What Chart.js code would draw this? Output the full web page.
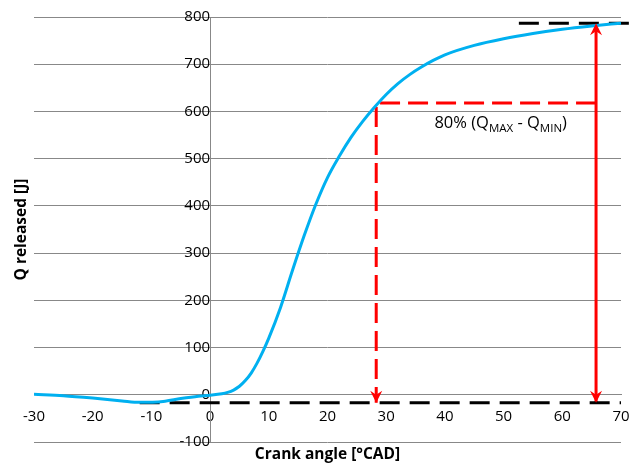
<!DOCTYPE html>
<html>
<head>
<meta charset="utf-8">
<script src="https://cdn.jsdelivr.net/npm/chart.js@4/dist/chart.umd.min.js"></script>
<style>
  html, body { margin: 0; padding: 0; background: #fff; }
  canvas { display: block; }
</style>
</head>
<body>
<canvas id="heatChart" width="629" height="467"></canvas>
<script>
// Dữ liệu
const crankAngle = [-30, -25, -20, -15, -12, -8, -5, -2, 0, 2, 3, 4, 5, 6, 7, 8, 9, 10, 12, 14, 16, 18, 20, 22, 24, 26, 28, 30, 32, 34, 36, 38, 40, 45, 50, 55, 60, 65, 70];
const heatReleased = [1, -2, -7, -13, -16, -14, -8, -3, -1, 2, 5, 10, 18, 30, 46, 67, 92, 120, 185, 262, 336, 403, 460, 505, 545, 579, 609, 636, 659, 678, 694, 708, 720, 740, 754, 765, 774, 781, 787];

// Các đường chú thích
const qMin = -17;
const qMax = 787;
const q80 = 618;
const angle80 = 28.3;
const angleArrow = 65.75;
const qMinRange = [-12, 70];
const qMaxRange = [52.6, 71.4];

const xTicks = [-30, 70, 10];   // min, max, step
const yTicks = [-100, 800, 100];

const toPoints = (xs, ys) => xs.map((v, i) => ({x: v, y: ys[i]}));

// Vẽ đầu mũi tên ở cuối đường
const arrowPlugin = {
  id: 'arrowHeads',
  afterDatasetsDraw(chart) {
    const ctx = chart.ctx;
    chart.data.datasets.forEach((ds, i) => {
      if (!ds.arrowAt) return;
      const pts = chart.getDatasetMeta(i).data;
      ds.arrowAt.forEach(idx => {
        const tip = pts[idx];
        const from = pts[idx === 0 ? 1 : idx - 1];
        const ang = Math.atan2(tip.y - from.y, tip.x - from.x);
        ctx.save();
        ctx.translate(tip.x, tip.y);
        ctx.rotate(ang);
        ctx.fillStyle = ds.borderColor;
        ctx.beginPath();
        ctx.moveTo(0, 0);
        ctx.lineTo(-12, -6);
        ctx.lineTo(-8, 0);
        ctx.lineTo(-12, 6);
        ctx.closePath();
        ctx.fill();
        ctx.restore();
      });
    });
  }
};

// Tiêu đề trục và nhãn 80%
const textPlugin = {
  id: 'texts',
  afterDraw(chart) {
    const {ctx, chartArea, scales} = chart;
    ctx.save();
    ctx.fillStyle = '#000';
    ctx.font = 'bold 15.5px "Open Sans"';
    ctx.textAlign = 'center';
    ctx.textBaseline = 'middle';
    ctx.fillText('Crank angle [°CAD]', (chartArea.left + chartArea.right) / 2, 455);
    ctx.save();
    ctx.translate(22, (chartArea.top + chartArea.bottom) / 2);
    ctx.rotate(-Math.PI / 2);
    ctx.fillText('Q released [J]', 0, 0);
    ctx.restore();

    const parts = [
      ['80% (Q', 16.5, 0], ['MAX', 11.5, 4], [' - Q', 16.5, 0], ['MIN', 11.5, 4], [')', 16.5, 0]
    ];
    let total = 0;
    parts.forEach(p => { ctx.font = p[1] + 'px "Open Sans"'; total += ctx.measureText(p[0]).width; });
    let px = scales.x.getPixelForValue(49.5) - total / 2;
    const py = scales.y.getPixelForValue(564);
    ctx.textAlign = 'left';
    ctx.textBaseline = 'alphabetic';
    parts.forEach(p => {
      ctx.font = p[1] + 'px "Open Sans"';
      ctx.fillText(p[0], px, py + p[2]);
      px += ctx.measureText(p[0]).width;
    });
    ctx.restore();
  }
};

// Bỏ phần đệm tự động của trục
function noPadding(scale) {
  scale.paddingLeft = 0;
  scale.paddingRight = 0;
  scale.paddingTop = 0;
  scale.paddingBottom = 0;
}

const ctx = document.getElementById('heatChart').getContext('2d');
const heatChart = new Chart(ctx, {
  type: 'line',
  data: {
    datasets: [
      {
        data: toPoints(crankAngle, heatReleased),
        borderColor: 'rgb(0, 176, 240)',
        borderWidth: 3,
        pointRadius: 0,
        cubicInterpolationMode: 'monotone'
      },
      {
        data: toPoints(qMinRange, [qMin, qMin]),
        borderColor: '#000',
        borderWidth: 3,
        borderDash: [20, 10],
        pointRadius: 0,
        clip: false
      },
      {
        data: toPoints(qMaxRange, [qMax, qMax]),
        borderColor: '#000',
        borderWidth: 3,
        borderDash: [20, 10],
        pointRadius: 0,
        clip: false
      },
      {
        data: toPoints([angleArrow, angle80, angle80], [q80, q80, qMin]),
        borderColor: 'rgb(255, 0, 0)',
        borderWidth: 3,
        borderDash: [20, 8],
        pointRadius: 0,
        arrowAt: [2]
      },
      {
        data: toPoints([angleArrow, angleArrow], [qMin, qMax]),
        borderColor: 'rgb(255, 0, 0)',
        borderWidth: 3,
        pointRadius: 0,
        arrowAt: [0, 1]
      }
    ]
  },
  options: {
    responsive: false,
    animation: false,
    layout: { padding: { left: 34, right: 8, top: 17, bottom: 25 } },
    plugins: { legend: { display: false }, tooltip: { enabled: false } },
    scales: {
      x: {
        type: 'linear',
        position: { y: 0 },
        min: xTicks[0], max: xTicks[1],
        afterFit: noPadding,
        ticks: { stepSize: xTicks[2], padding: 13, color: '#000', font: { family: 'Open Sans', size: 15 } },
        grid: { display: false, drawTicks: false },
        border: { display: true, color: '#888', width: 1 }
      },
      y: {
        type: 'linear',
        position: { x: 0 },
        min: yTicks[0], max: yTicks[1],
        afterFit: noPadding,
        ticks: { stepSize: yTicks[2], padding: 16, color: '#000', font: { family: 'Open Sans', size: 15 } },
        grid: { color: '#888', lineWidth: 1, drawTicks: false },
        border: { display: true, color: '#888', width: 1 }
      }
    }
  },
  plugins: [arrowPlugin, textPlugin]
});
</script>
</body>
</html>
